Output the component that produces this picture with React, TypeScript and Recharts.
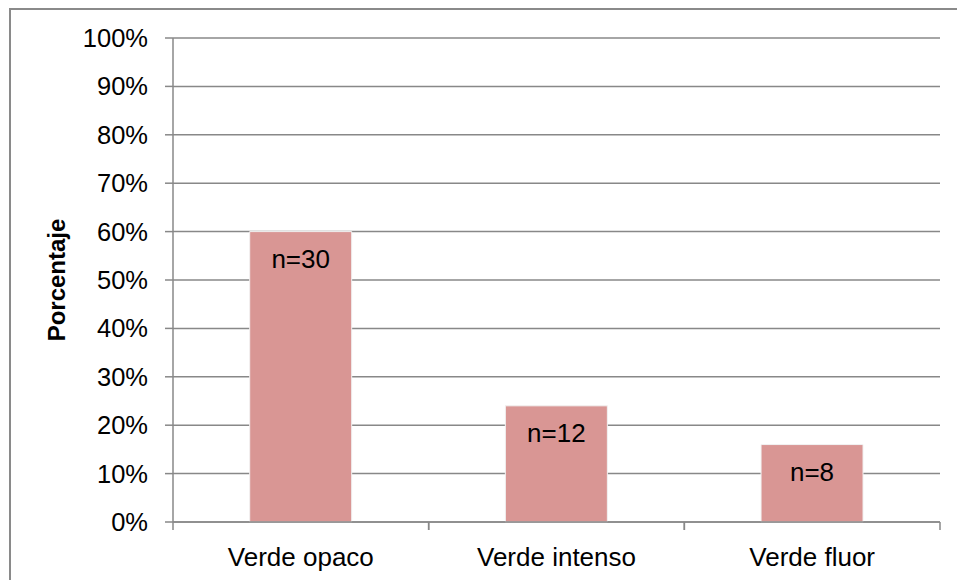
import { BarChart, Bar, XAxis, YAxis, CartesianGrid, LabelList } from 'recharts';

const categories = ['Verde opaco', 'Verde intenso', 'Verde fluor'];
const percentages = [60, 24, 16];
const counts = ['n=30', 'n=12', 'n=8'];
const yTicks = [0, 10, 20, 30, 40, 50, 60, 70, 80, 90, 100];

const data = categories.map((name, i) => ({ name, value: percentages[i], label: counts[i] }));

const font = 'Arial, "Liberation Sans", sans-serif';

// category label plus tick marks at the edges of each category band
function CategoryTick(props: any) {
  const { x, y, payload } = props;
  const half = payload?.offset ?? 0;
  const axisY = y - 26;
  return (
    <g>
      <line x1={x - half} x2={x - half} y1={axisY} y2={axisY + 8} stroke="#888" strokeWidth={1.5} />
      <line x1={x + half} x2={x + half} y1={axisY} y2={axisY + 8} stroke="#888" strokeWidth={1.5} />
      <text x={x} y={y} dy="0.71em" textAnchor="middle" fill="#000" fontSize={26} fontFamily={font}>
        {payload.value}
      </text>
    </g>
  );
}

export default function App() {
  return (
    <div style={{ position: 'absolute', left: 0, top: 0, width: 957, height: 580, background: '#fff' }}>
      <div
        style={{
          position: 'absolute',
          left: 9,
          top: 8,
          width: 960,
          height: 600,
          borderLeft: '2px solid #8a8a8a',
          borderTop: '2px solid #8a8a8a',
        }}
      />
      <BarChart
        width={957}
        height={580}
        data={data}
        margin={{ top: 38, right: 17, left: 0, bottom: 0 }}
        barCategoryGap="30%"
        style={{ position: 'absolute', left: 0, top: 0, fontFamily: font }}
      >
        <CartesianGrid stroke="#888" strokeWidth={1.5} vertical={false} />
        <XAxis
          dataKey="name"
          height={58}
          tickLine={false}
          tickSize={0}
          tickMargin={26}
          axisLine={{ stroke: '#888', strokeWidth: 1.5 }}
          tick={<CategoryTick />}
        />
        <YAxis
          domain={[0, 100]}
          ticks={yTicks}
          width={173}
          tickSize={8}
          tickMargin={17}
          tickFormatter={(v) => `${v}%`}
          axisLine={{ stroke: '#888', strokeWidth: 1.5 }}
          tickLine={{ stroke: '#888', strokeWidth: 1.5 }}
          tick={{ fill: '#000', fontSize: 25.5, fontFamily: font }}
          label={{
            value: 'Porcentaje',
            angle: -90,
            position: 'insideLeft',
            offset: 56,
            style: { fontSize: 24, fontWeight: 'bold', fill: '#000', fontFamily: font, textAnchor: 'middle' },
          }}
        />
        <Bar dataKey="value" fill="#D99694" stroke="#f2f2f2" strokeWidth={1} isAnimationActive={false}>
          <LabelList
            dataKey="label"
            position="insideTop"
            offset={18}
            style={{ fill: '#000', fontSize: 26, fontFamily: font }}
          />
        </Bar>
      </BarChart>
    </div>
  );
}
